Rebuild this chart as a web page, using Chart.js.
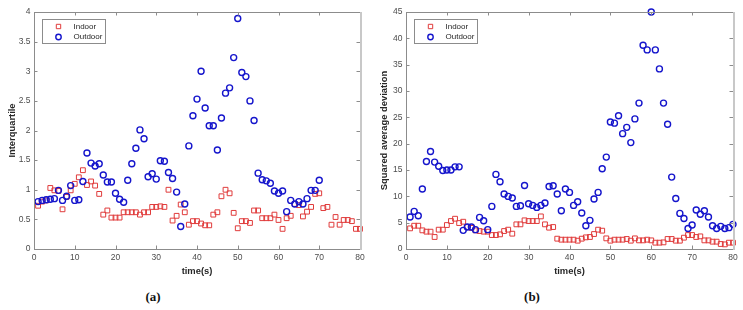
<!DOCTYPE html>
<html><head><meta charset="utf-8">
<script src="https://cdn.jsdelivr.net/npm/chart.js@4"></script>
<style>
html,body{margin:0;padding:0;background:#fff;width:743px;height:310px;overflow:hidden;position:relative}
canvas{position:absolute;top:0}
#c1{left:0}
#c2{left:372px}
.cap{position:absolute;top:289px;font:bold 13px 'Liberation Serif','DejaVu Serif',serif;color:#111;transform:translateX(-50%)}
</style></head>
<body>
<canvas id="c1" width="370" height="277"></canvas>
<canvas id="c2" width="371" height="277"></canvas>
<div class="cap" style="left:153px">(a)</div>
<div class="cap" style="left:532px">(b)</div>
<script>
// ---- data ----
const timeIndoor = Array.from({length:80},(_,i)=>i+1);
const timeOutdoorA = Array.from({length:70},(_,i)=>i+1);
const timeOutdoorB = Array.from({length:80},(_,i)=>i+1);

const iqrIndoor = [0.73,0.80,0.82,1.03,0.99,0.98,0.67,0.88,0.99,1.10,
  1.21,1.33,1.08,1.14,1.07,0.93,0.58,0.65,0.53,0.53,
  0.53,0.62,0.62,0.62,0.62,0.58,0.62,0.62,0.71,0.71,
  0.72,0.71,1.00,0.48,0.56,0.75,0.62,0.41,0.47,0.47,
  0.43,0.40,0.40,0.58,0.62,0.89,1.00,0.94,0.61,0.35,
  0.47,0.47,0.44,0.65,0.65,0.52,0.52,0.52,0.58,0.49,
  0.34,0.52,0.56,0.76,0.74,0.55,0.63,0.71,0.93,0.94,
  0.69,0.71,0.41,0.54,0.41,0.49,0.49,0.47,0.34,0.34];
const iqrOutdoor = [0.80,0.82,0.83,0.84,0.85,0.99,0.82,0.89,1.07,0.82,
  0.83,1.14,1.62,1.45,1.40,1.44,1.25,1.13,1.13,0.94,
  0.84,0.79,1.16,1.44,1.70,2.01,1.86,1.22,1.27,1.18,
  1.49,1.48,1.29,1.19,0.96,0.38,0.76,1.74,2.25,2.53,
  3.00,2.38,2.08,2.08,1.67,2.21,2.63,2.72,3.23,3.89,
  2.98,2.91,2.50,2.17,1.28,1.17,1.15,1.11,0.98,0.94,
  0.98,0.63,0.82,0.76,0.80,0.76,0.85,0.99,0.99,1.16];
const sadIndoor = [3.92,4.42,4.42,3.54,3.29,3.29,2.28,3.67,3.67,4.55,
  5.31,5.75,4.93,5.18,4.17,4.00,3.54,3.41,3.29,3.29,
  2.65,2.65,2.78,3.41,3.67,2.91,4.68,4.68,5.44,5.31,
  5.31,5.31,6.19,4.68,4.05,4.17,1.96,1.77,1.77,1.77,
  1.77,1.58,1.96,2.21,2.28,2.84,3.67,3.48,2.02,1.58,
  1.77,1.77,1.77,1.90,1.58,2.02,1.64,1.64,1.77,1.64,
  1.20,1.20,1.26,1.90,1.90,1.58,1.58,2.15,2.65,2.65,
  2.28,2.40,1.64,1.64,1.39,1.39,0.95,0.88,1.20,1.20];
const sadOutdoor = [6.07,7.14,6.32,11.4,16.6,18.5,16.5,15.7,14.9,15.0,
  15.0,15.6,15.6,3.54,4.17,4.17,3.67,6.0,5.37,3.67,
  8.09,14.16,12.77,10.43,9.99,9.67,8.09,8.2,12.07,8.6,
  8.28,7.9,8.28,8.72,11.88,12.0,10.43,7.27,11.38,10.75,
  8.28,8.98,6.83,4.42,5.44,9.48,10.75,15.23,17.45,24.1,
  23.9,25.3,21.9,23.1,20.2,24.7,27.7,38.7,37.8,45.0,
  37.8,34.2,27.7,23.7,13.65,9.6,6.76,5.8,3.9,4.55,
  7.4,6.6,7.27,6.07,4.42,3.9,4.3,3.9,4.05,4.68];
const legendLabels = ['Indoor','Outdoor'];
const xTitle = 'time(s)';
const yTitleA = 'Interquartile';
const yTitleB = 'Squared average deviation';

// ---- styling ----
const RED = '#e03b3b', BLUE = '#1515cc';
const FONT = "'Liberation Sans', Arial, sans-serif";

const toPts = (xs, ys) => ys.map((v,i)=>({x:xs[i], y:v}));

const boxPlugin = {
  id:'matlabBox',
  afterDatasetsDraw(chart){
    const {ctx, chartArea:{left,right,top,bottom}, scales:{x,y}} = chart;
    ctx.save();
    ctx.strokeStyle = '#8c8c8c'; ctx.lineWidth = 1;
    ctx.beginPath();
    x.ticks.forEach(t=>{
      const px = Math.round(x.getPixelForValue(t.value))+0.5;
      ctx.moveTo(px,bottom); ctx.lineTo(px,bottom-3.5);
      ctx.moveTo(px,top); ctx.lineTo(px,top+3.5);
    });
    y.ticks.forEach(t=>{
      const py = Math.round(y.getPixelForValue(t.value))+0.5;
      ctx.moveTo(left,py); ctx.lineTo(left+3.5,py);
      ctx.moveTo(right,py); ctx.lineTo(right-3.5,py);
    });
    ctx.stroke();
    // axes box
    ctx.beginPath();
    ctx.moveTo(Math.round(left)+0.5, Math.round(top)+0.5);
    ctx.lineTo(Math.round(left)+0.5, Math.round(bottom)+0.5);
    ctx.lineTo(Math.round(right)+0.5, Math.round(bottom)+0.5);
    ctx.moveTo(Math.round(left)+0.5, Math.round(top)+0.5);
    ctx.lineTo(Math.round(right)+0.5, Math.round(top)+0.5);
    ctx.stroke();
    ctx.strokeStyle = '#c8c8c8'; ctx.lineWidth = 2;
    ctx.beginPath();
    ctx.moveTo(Math.round(right)+1, Math.round(top));
    ctx.lineTo(Math.round(right)+1, Math.round(bottom)+1);
    ctx.stroke();
    // legend
    const x0 = Math.round(left)+8.5, y0 = Math.round(top)+7.5, w = 63, h = 24;
    ctx.fillStyle = '#fff';
    ctx.fillRect(x0,y0,w,h);
    ctx.strokeStyle = '#8c8c8c'; ctx.lineWidth = 1;
    ctx.strokeRect(x0,y0,w,h);
    const ds = chart.data.datasets;
    const rows = [y0+7, y0+17.5];
    ds.forEach((d,i)=>{
      ctx.strokeStyle = d.borderColor; ctx.lineWidth = d.borderWidth;
      ctx.beginPath();
      if (d.pointStyle==='rect'){ const s=2.2; ctx.rect(x0+16-s, rows[i]-s, 2*s, 2*s); }
      else { ctx.arc(x0+16, rows[i], 2.7, 0, Math.PI*2); }
      ctx.stroke();
      ctx.fillStyle = '#262626';
      ctx.font = '8px '+FONT;
      ctx.textBaseline = 'middle'; ctx.textAlign = 'left';
      ctx.fillText(d.label, x0+31, rows[i]);
    });
    ctx.restore();
  }
};

const fmt = v => String(Math.round(v*100)/100);

function makeChart(id, indoor, outdoor, outdoorX, ymax, ystep, yTitle){
  return new Chart(document.getElementById(id), {
    type:'scatter',
    data:{datasets:[
      {label:legendLabels[0], data:toPts(timeIndoor, indoor), pointStyle:'rect', pointRadius:3.4,
       borderColor:RED, backgroundColor:'rgba(0,0,0,0)', borderWidth:1, clip:false, order:2},
      {label:legendLabels[1], data:toPts(outdoorX, outdoor), pointStyle:'circle', pointRadius:3,
       borderColor:BLUE, backgroundColor:'rgba(0,0,0,0)', borderWidth:1.4, clip:false, order:1}
    ]},
    options:{
      responsive:false, animation:false, devicePixelRatio:1,
      layout:{padding:{top:12, right:10, left:0, bottom:0}},
      plugins:{legend:{display:false}, tooltip:{enabled:false}, title:{display:false}},
      scales:{
        x:{type:'linear', min:0, max:80,
           ticks:{stepSize:10, color:'#4d4d4d', font:{family:FONT, size:8.5}, padding:4, maxRotation:0, callback:fmt},
           grid:{display:false, drawTicks:false},
           border:{display:false},
           title:{display:true, text:xTitle, color:'#262626', font:{family:FONT, size:9.4, weight:'bold'}, padding:{top:0,bottom:0}},
           afterFit(s){ s.height = 28; }},
        y:{type:'linear', min:0, max:ymax,
           ticks:{stepSize:ystep, color:'#4d4d4d', font:{family:FONT, size:8.5}, padding:3.5, callback:fmt},
           grid:{display:false, drawTicks:false},
           border:{display:false},
           title:{display:true, text:yTitle, color:'#262626', font:{family:FONT, size:9.4, weight:'bold'}, padding:{top:6.5,bottom:0}},
           afterFit(s){ s.width = 34; }}
      }
    },
    plugins:[boxPlugin]
  });
}
makeChart('c1', iqrIndoor, iqrOutdoor, timeOutdoorA, 4, 0.5, yTitleA);
makeChart('c2', sadIndoor, sadOutdoor, timeOutdoorB, 45, 5, yTitleB);
</script>
</body></html>
